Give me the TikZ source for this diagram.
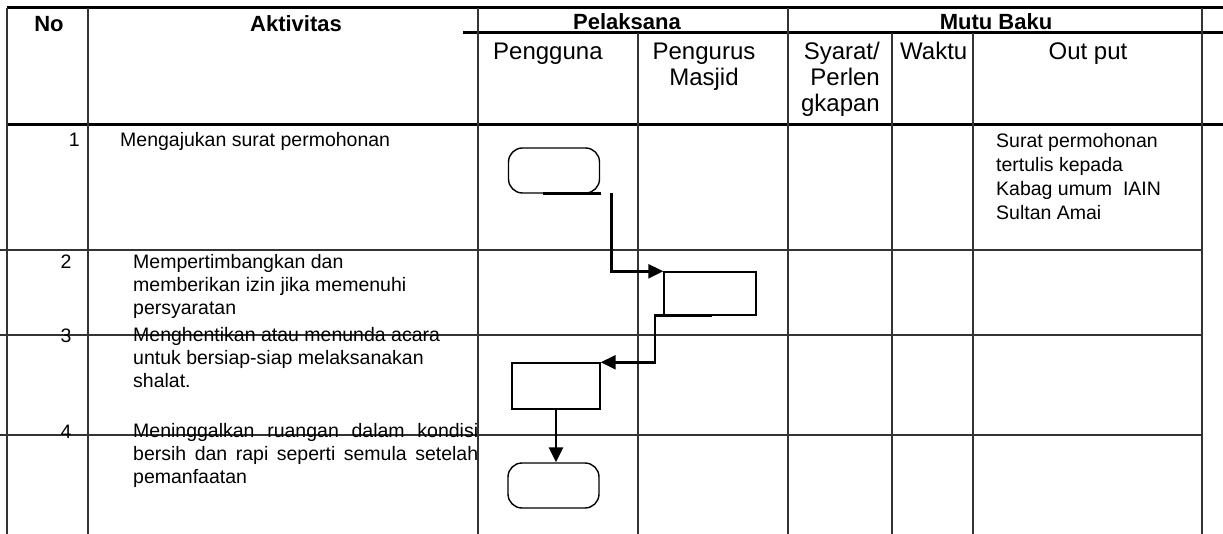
\documentclass[tikz,border=0pt]{standalone}
\usepackage{fontspec}
\setmainfont{Liberation Sans}
\usetikzlibrary{arrows.meta,positioning,calc}
\definecolor{rulegray}{gray}{0.2}

\begin{document}
\begin{tikzpicture}[x=1pt,y=-1pt,
  rule/.style={draw=rulegray,line width=1.1pt},
  heavy/.style={draw=black,line width=3pt},
  head/.style={font=\fontsize{22}{26}\selectfont\bfseries,inner sep=0pt,anchor=base},
  sub/.style={font=\fontsize{24}{26}\selectfont,inner sep=0pt,anchor=base},
  body/.style={font=\fontsize{19.5}{23}\selectfont,inner sep=0pt,anchor=base west,align=left},
  terminal/.style={draw=black,line width=1.4pt,rounded corners=14pt,
    minimum width=91pt,minimum height=45pt},
  process/.style={draw=black,line width=1.4pt,minimum width=92pt,minimum height=43pt},
  flow/.style={draw=black,line width=2.6pt},
  arrow/.style={flow,-{Triangle[length=15pt,width=14pt]}}
]
\useasboundingbox (0,0) rectangle (1223,534);

% table rules
\draw[heavy] (7,8) -- (1223,8);
\draw[heavy] (463,33) -- (1223,33);
\draw[heavy] (7,125) -- (1223,125);
\foreach \y in {250,335,435}
  \draw[rule] (0,\y) -- (1202,\y);
\foreach \x in {7,88,478,788,1202}
  \draw[rule] (\x,8) -- (\x,534);
\foreach \x in {638,892,973}
  \draw[rule] (\x,33) -- (\x,534);

% header (multi-line nodes sit on their last baseline)
\node[head] (no) at (49,32) {No};
\node[head] (activity) at (296,32) {Aktivitas};
\node[head] (actors) at (627,30) {Pelaksana};
\node[head] (quality) at (996,30) {Mutu Baku};
\node[sub,anchor=base west] (user) at (493,60) {Pengguna};
\node[sub,align=center] (staff) at (704,86) {Pengurus\\Masjid};
\node[sub,align=right,anchor=base east] (req) at (880,112) {Syarat/\\Perlen\\gkapan};
\node[sub,anchor=base west] (time) at (900,60) {Waktu};
\node[sub] (output) at (1088,60) {Out put};

% rows
\node[body,anchor=base east] (n1) at (80,147) {1};
\node[body] (a1) at (120,147) {Mengajukan surat permohonan};
\node[body,anchor=base] (n2) at (66,269) {2};
\node[body] (a2) at (133,315) {Mempertimbangkan dan\\
  memberikan izin jika memenuhi\\persyaratan};
\node[body,anchor=base] (n3) at (66,343) {3};
\node[body] (a3) at (133,388) {Menghentikan atau menunda acara\\
  untuk bersiap-siap melaksanakan\\shalat.};
\node[body,anchor=base] (n4) at (66,438) {4};
\node[body] (a4) at (133,483) {\makebox[345pt][s]{Meninggalkan ruangan dalam kondisi}\\
  \makebox[345pt][s]{bersih dan rapi seperti semula setelah}\\pemanfaatan};
\node[body,font=\fontsize{19.5}{24}\selectfont] (o1) at (996,220) {Surat permohonan\\
  tertulis kepada\\Kabag umum\ \ IAIN\\Sultan Amai};

% flow shapes
\node[terminal] (start) at (554,170.5) {};
\node[process] (permit) at (710,293.5) {};
\node[process,minimum width=88pt,minimum height=46pt] (pause) at (556,386) {};
\node[terminal] (finish) at (553.5,485.5) {};

\draw[flow] ($(start.south)+(-11,0)$) -- ++(58,0);
\draw[arrow] ($(start.south east)+(11,-1)$) |- (permit.north west);
\draw[arrow] ($(permit.south)+(2,0)$) -- ++(-57,0) |- (pause.north east);
\draw[arrow] (pause.south) -- (pause.south |- finish.north);

\end{tikzpicture}
\end{document}
